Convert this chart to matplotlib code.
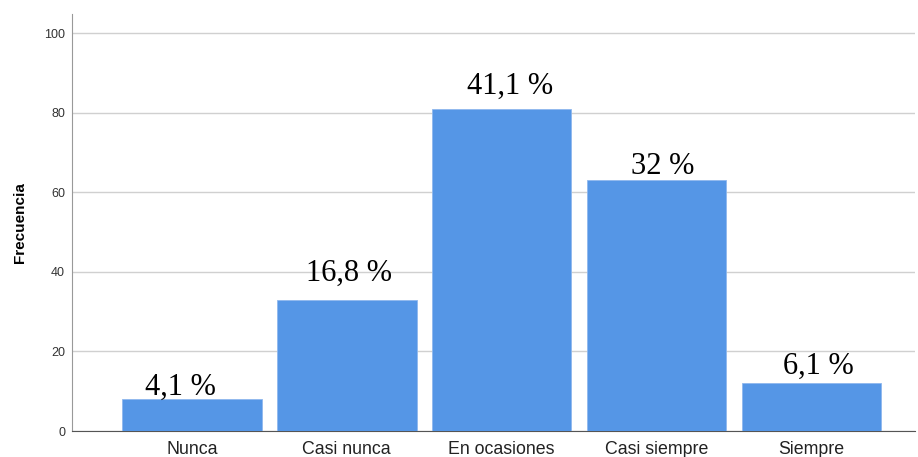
import matplotlib
matplotlib.use("Agg")
import matplotlib.pyplot as plt

categories = ["Nunca", "Casi nunca", "En ocasiones", "Casi siempre", "Siempre"]
counts = [8, 33, 81, 63, 12]
pct_labels = ["4,1 %", "16,8 %", "41,1 %", "32 %", "6,1 %"]
yticks = [0, 20, 40, 60, 80, 100]

# label placement offsets (pixels) as in the reference
label_dx = [-11, 2, 8, 6, 7]
label_dy = [4, 19, 15, 6, 9]

fig = plt.figure(figsize=(9.18, 4.57), dpi=100)
W, H = 918, 457
ax = fig.add_axes([72 / W, 1 - 431 / H, (915 - 72) / W, (431 - 14) / H])

x = list(range(len(categories)))
ax.bar(x, counts, width=0.9, color="#5596e6", edgecolor="#8fb8ee", linewidth=0.6, zorder=3)
ax.set_xlim(-0.774, 4.668)
ax.set_ylim(0, 104.8)
ax.set_yticks(yticks)
ax.set_yticklabels([str(t) for t in yticks], fontsize=9, color="#333333", family="Liberation Sans")
ax.set_xticks(x)
ax.set_xticklabels(categories, fontsize=12.8, color="#222222", family="Liberation Sans")
ax.tick_params(axis="y", length=0, pad=5)
ax.tick_params(axis="x", length=0, pad=7)
ax.yaxis.grid(True, color="#d0d0d0", linewidth=1.0, zorder=0)
ax.set_axisbelow(True)
for s in ["top", "right"]:
    ax.spines[s].set_visible(False)
ax.spines["left"].set_color("#999999")
ax.spines["bottom"].set_color("#555555")
ax.set_ylabel("Frecuencia", fontsize=11, fontweight="bold", family="Liberation Sans")
ax.yaxis.set_label_coords(-(72 - 27) / (915 - 72), 0.5)

for xi, c, lab, dx, dy in zip(x, counts, pct_labels, label_dx, label_dy):
    ax.annotate(lab, xy=(xi, c), xytext=(dx * 0.72, dy * 0.72), textcoords="offset points",
                ha="center", va="baseline", fontsize=22,
                family="Liberation Serif", color="black", zorder=4)

fig.savefig("out.png", dpi=100)
